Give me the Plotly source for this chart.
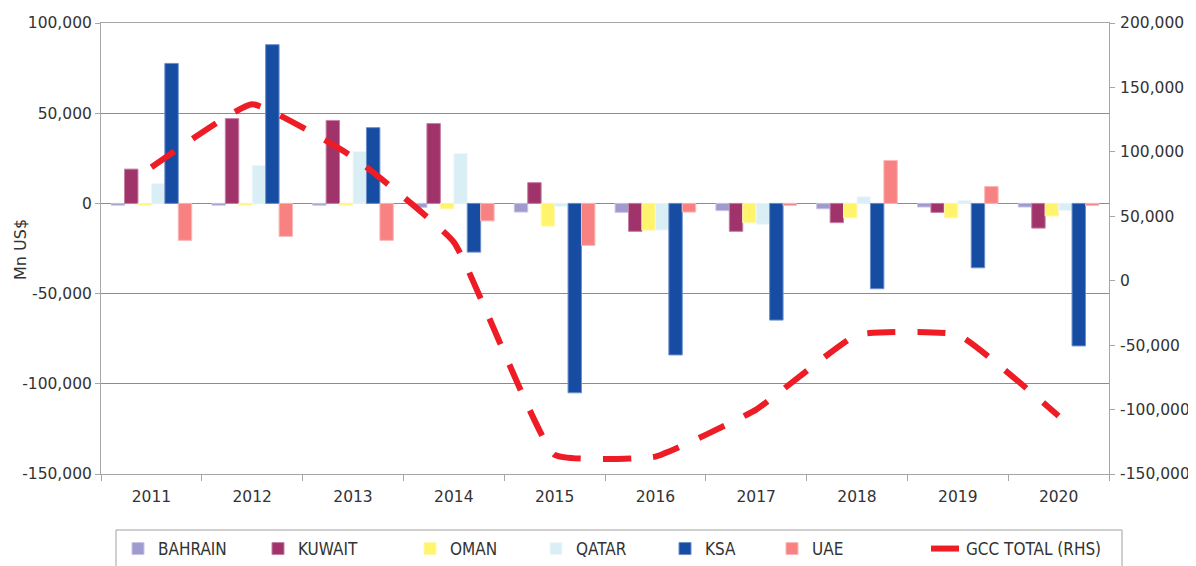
import plotly.graph_objects as go

years = ["2011", "2012", "2013", "2014", "2015", "2016", "2017", "2018", "2019", "2020"]
bahrain = [-1000, -1000, -1000, -2200, -4800, -5000, -4000, -3000, -2000, -2000]
kuwait = [19000, 47000, 46000, 44300, 11500, -15500, -15500, -10700, -5000, -13700]
oman = [-1000, -1000, -1000, -3000, -12600, -14800, -10700, -8000, -8000, -7000]
qatar = [11000, 21000, 28800, 27700, -1700, -14800, -11600, 3700, 1700, -3900]
ksa = [77600, 88000, 42000, -27000, -105000, -84000, -64700, -47300, -35700, -79000]
uae = [-20500, -18300, -20500, -9700, -23300, -4800, -1100, 23800, 9400, -1100]
gcc_total = [88000, 137000, 96000, 30000, -135000, -136500, -100000, -42000, -42000, -105000]

left_tickvals = [-150000, -100000, -50000, 0, 50000, 100000]
left_ticktext = ["-150,000", "-100,000", "-50,000", "0", "50,000", "100,000"]
right_tickvals = [-150000, -100000, -50000, 0, 50000, 100000, 150000, 200000]
right_ticktext = ["-150,000", "-100,000", "-50,000", "0", "50,000", "100,000", "150,000", "200,000"]

series_names = ["BAHRAIN", "KUWAIT", "OMAN", "QATAR", "KSA", "UAE"]
series_vals = [bahrain, kuwait, oman, qatar, ksa, uae]
series_colors = ["#A09BCF", "#A0336A", "#FFF46B", "#DAEFF5", "#164DA3", "#F88282"]
line_colors = ["#C8C5E6", "#C77FA3", "#FFF9B0", "#EEF8FB", "#6C8FCB", "#FBB8B8"]

FONT = "DejaVu Sans, Noto Sans, sans-serif"
LEGFONT = "DejaVu Sans Condensed, Liberation Sans Narrow, DejaVu Sans, sans-serif"
TXT = "#333333"
OFF = 8  # page body margin
W, H = 1196 - OFF, 566 - OFF
L, R, T, B = 101, 1109, 23, 474  # plot area in screenshot pixels

def px2x(px):
    return (px - L) / (R - L)

def py2y(py):
    return (B - py) / (B - T)

fig = go.Figure()
legend_text_starts = [158, 298, 450, 576, 705, 812, 966]
legend_keys = ["legend"] + ["legend%d" % i for i in range(2, 8)]

for i, (name, vals, col, lcol) in enumerate(zip(series_names, series_vals, series_colors, line_colors)):
    fig.add_trace(go.Bar(
        x=years, y=vals, name=name,
        marker=dict(color=col, line=dict(color=lcol, width=1)),
        legend=legend_keys[i],
        yaxis="y",
    ))

fig.add_trace(go.Scatter(
    x=years, y=gcc_total, name="GCC TOTAL (RHS)", mode="lines",
    line=dict(color="#EE1C25", width=6, dash="28px,22px", shape="spline", smoothing=0.35),
    yaxis="y2", legend=legend_keys[6],
))

layout_legends = {}
for key, ts in zip(legend_keys, legend_text_starts):
    layout_legends[key] = dict(
        x=px2x(ts - 40), xanchor="left",
        y=py2y(549), yanchor="middle",
        orientation="h",
        bgcolor="rgba(0,0,0,0)",
        font=dict(family=LEGFONT, size=17, color=TXT),
    )

grid_col = "#8C8C8C"
axis_col = "#A6A6A6"
tickfont = dict(family=FONT, size=15.5, color=TXT)

fig.update_layout(
    width=W, height=H,
    margin=dict(l=L - OFF, r=1196 - R, t=T - OFF, b=566 - B, autoexpand=False),
    paper_bgcolor="white", plot_bgcolor="white",
    barmode="group", bargap=0.2, bargroupgap=0,
    font=dict(family=FONT, size=15, color=TXT),
    showlegend=True,
    xaxis=dict(
        type="category", tickson="boundaries", ticks="outside", ticklen=6,
        tickcolor=axis_col, showline=True, linecolor=axis_col, linewidth=1,
        mirror=True, automargin=False, ticklabelstandoff=8,
        showgrid=False, tickfont=tickfont,
    ),
    yaxis=dict(
        range=[-150000, 100000], tickmode="array",
        tickvals=left_tickvals, ticktext=left_ticktext,
        showgrid=True, gridcolor=grid_col, gridwidth=1,
        zeroline=True, zerolinecolor=grid_col, zerolinewidth=1,
        showline=True, linecolor=axis_col, linewidth=1, automargin=False,
        ticks="outside", ticklen=5, tickcolor=axis_col,
        tickfont=tickfont,
    ),
    yaxis2=dict(
        range=[-150000, 200000], tickmode="array",
        tickvals=right_tickvals, ticktext=right_ticktext,
        overlaying="y", side="right", showgrid=False, zeroline=False,
        showline=True, linecolor=axis_col, linewidth=1, automargin=False,
        ticks="outside", ticklen=5, tickcolor=axis_col, ticklabelstandoff=2,
        tickfont=tickfont,
    ),
    annotations=[dict(
        text="Mn US$", xref="paper", yref="paper",
        x=px2x(20), y=py2y(250), textangle=-90, showarrow=False,
        font=dict(family=FONT, size=16, color=TXT),
        xanchor="center", yanchor="middle",
    )],
    shapes=[dict(
        type="rect", xref="paper", yref="paper",
        x0=px2x(116), x1=px2x(1122), y0=py2y(600), y1=py2y(530),
        line=dict(color="#A0A0A0", width=1), fillcolor="rgba(0,0,0,0)",
    )],
    **layout_legends,
)

fig.write_html("out.html")
